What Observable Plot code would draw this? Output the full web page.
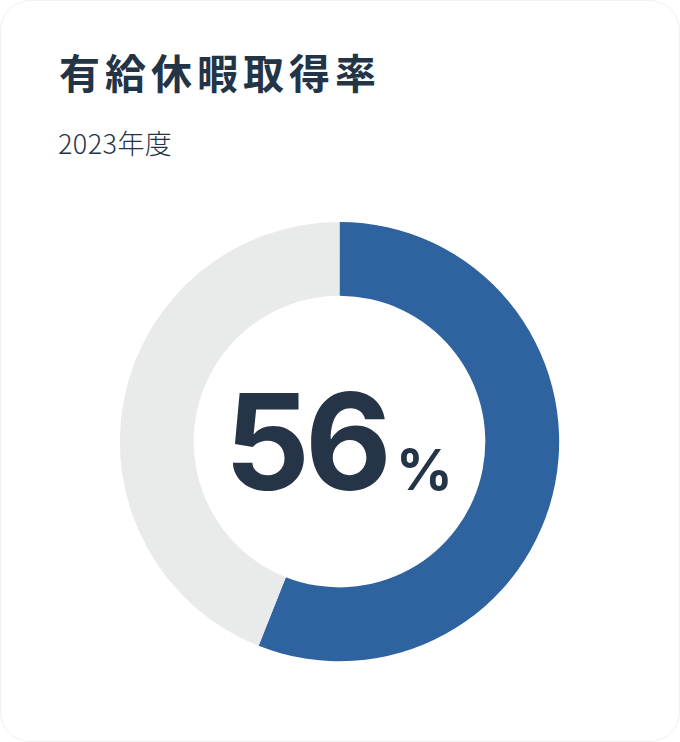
<!DOCTYPE html>
<html lang="ja">
<head>
<meta charset="utf-8">
<script src="https://cdn.jsdelivr.net/npm/d3@7"></script>
<script src="https://cdn.jsdelivr.net/npm/@observablehq/plot@0.6"></script>
<style>
  html, body { margin: 0; padding: 0; background: #ffffff; }
  #card {
    position: relative; width: 678px; height: 740px; overflow: hidden;
    border: 1px solid #f1f1f1; border-radius: 30px; background: #fff;
  }
  #title {
    position: absolute; left: 58px; top: 46px; margin: 0;
    font-family: "Noto Sans CJK JP", sans-serif; font-weight: 700;
    font-size: 41px; letter-spacing: 5px; color: #243447; line-height: 1.2;
    white-space: nowrap;
  }
  #subtitle {
    position: absolute; left: 57px; top: 126px; margin: 0;
    font-family: "Noto Sans CJK JP", sans-serif; font-weight: 300;
    font-size: 27px; color: #243447; line-height: 1.2; white-space: nowrap;
    letter-spacing: 0.4px;
  }
  #chart { position: absolute; left: -1px; top: 189px; }
</style>
</head>
<body>
<div id="card">
  <h1 id="title">有給休暇取得率</h1>
  <div id="subtitle">2023年度</div>
  <div id="chart"></div>
</div>
<script>
const categories = ["取得", "未取得"];
const values = [56, 44];
const colors = ["#2e63a0", "#e9eaea"];
const centerValue = "56";
const centerUnit = "%";

const data = categories.map((c, i) => ({category: c, value: values[i]}));

const outerR = 220, innerR = 146;

function donut(index, scales, vals, dimensions, context) {
  const cx = scales.x(0), cy = scales.y(0);
  const ro = scales.x(outerR) - cx, ri = scales.x(innerR) - cx;
  const pie = d3.pie().value(d => d.value).sort(null)(data);
  const arc = d3.arc().innerRadius(ri).outerRadius(ro);
  const g = d3.create("svg:g").attr("transform", `translate(${cx},${cy})`);
  g.selectAll("path").data(pie).join("path")
    .attr("d", arc)
    .attr("fill", d => scales.color(d.data.category));
  return g.node();
}

const chart = Plot.plot({
  width: 680,
  height: 553,
  margin: 0,
  x: {domain: [-340, 340], axis: null},
  y: {domain: [-301, 252], axis: null},
  color: {domain: categories, range: colors},
  marks: [
    Plot.dot(data, {x: () => 0, y: () => 0, fill: "category", r: 0}),
    donut,
    Plot.text([centerValue], {
      x: () => 0, y: () => 0, text: d => d, textAnchor: "end", lineAnchor: "bottom",
      dx: 47, dy: 48, fontSize: 134, fontWeight: 700, fill: "#253547",
      fontFamily: "Inter, sans-serif", className: "bignum"
    }),
    Plot.text([centerUnit], {
      x: () => 0, y: () => 0, text: d => d, textAnchor: "start", lineAnchor: "bottom",
      dx: 56, dy: 48, fontSize: 56, fontWeight: 700, fill: "#253547",
      fontFamily: "Inter, sans-serif"
    })
  ]
});
chart.querySelectorAll(".bignum text").forEach(t => t.setAttribute("letter-spacing", "-5"));
document.getElementById("chart").appendChild(chart);
</script>
</body>
</html>
